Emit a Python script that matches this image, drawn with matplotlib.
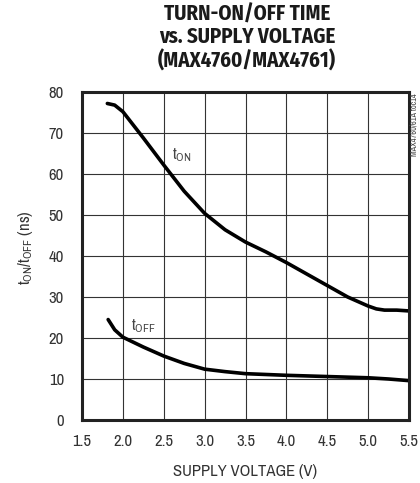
import matplotlib
matplotlib.use("Agg")
import matplotlib.pyplot as plt
import numpy as np

# Data
v_on = [1.81, 1.9, 2.0, 2.25, 2.5, 2.75, 3.0, 3.25, 3.5, 3.75, 4.0, 4.25, 4.5, 4.75, 5.0, 5.1, 5.2, 5.35, 5.5]
t_on = [77.2, 76.8, 75.2, 68.8, 62.2, 55.8, 50.4, 46.4, 43.4, 41.0, 38.4, 35.6, 32.8, 30.0, 27.8, 27.1, 26.8, 26.8, 26.6]
v_off = [1.82, 1.9, 2.0, 2.25, 2.5, 2.75, 3.0, 3.25, 3.5, 4.0, 4.5, 5.0, 5.25, 5.5]
t_off = [24.5, 22.0, 20.2, 17.8, 15.6, 13.8, 12.4, 11.8, 11.3, 10.9, 10.6, 10.3, 10.0, 9.6]
x_ticks = [1.5, 2.0, 2.5, 3.0, 3.5, 4.0, 4.5, 5.0, 5.5]
y_ticks = [0, 10, 20, 30, 40, 50, 60, 70, 80]

FONT = ['Archivo Narrow', 'DejaVu Sans']
TITLE_FONT = ['Fira Sans Condensed', 'DejaVu Sans']
plt.rcParams['font.family'] = FONT
plt.rcParams['mathtext.fontset'] = 'custom'
plt.rcParams['mathtext.rm'] = 'Archivo Narrow'
plt.rcParams['mathtext.it'] = 'Archivo Narrow'

TXT = '#333333'

fig = plt.figure(figsize=(4.2, 4.83), dpi=100)
ax = fig.add_axes([82/420, 63/483, 327/420, 328/483])

ax.plot(v_on, t_on, color='black', lw=2.6, solid_capstyle='round')
ax.plot(v_off, t_off, color='black', lw=2.6, solid_capstyle='round')

ax.set_xlim(1.5, 5.5)
ax.set_ylim(0, 80)
ax.set_xticks(x_ticks)
ax.set_xticklabels([f"{t:.1f}" for t in x_ticks])
ax.set_yticks(y_ticks)
ax.set_yticklabels([str(t) for t in y_ticks])
ax.grid(True, color='#333333', lw=0.8)
ax.set_axisbelow(True)
for s in ax.spines.values():
    s.set_linewidth(2.2)
    s.set_color('#222222')
ax.tick_params(length=0, labelsize=12, colors=TXT)
ax.tick_params(axis='x', pad=10)
ax.tick_params(axis='y', pad=13)

ax.set_xlabel('SUPPLY VOLTAGE (V)', fontsize=12, color=TXT, labelpad=11)
ax.set_ylabel(r'$\mathregular{t_{ON}/t_{OFF}}$ (ns)', fontsize=12, color=TXT)
ax.yaxis.set_label_coords(-0.145, 0.527)

ax.text(2.6, 64.5, r'$\mathregular{t_{ON}}$', fontsize=12, color='#444444', va='center')
ax.text(2.1, 23.0, r'$\mathregular{t_{OFF}}$', fontsize=12, color='#444444', va='center')

fig.text(247/420, 1 - 37.5/483, 'TURN-ON/OFF TIME\nvs. SUPPLY VOLTAGE\n(MAX4760/MAX4761)',
         ha='center', va='center', fontsize=15, fontweight='bold', color='#1a1a1a',
         linespacing=1.10, family=TITLE_FONT)

fig.text(414/420, 1 - 93/483, 'MAX4760/61A toc14', rotation=90, ha='center', va='top',
         fontsize=6, color='#444444')

fig.savefig('out.png', dpi=100)
